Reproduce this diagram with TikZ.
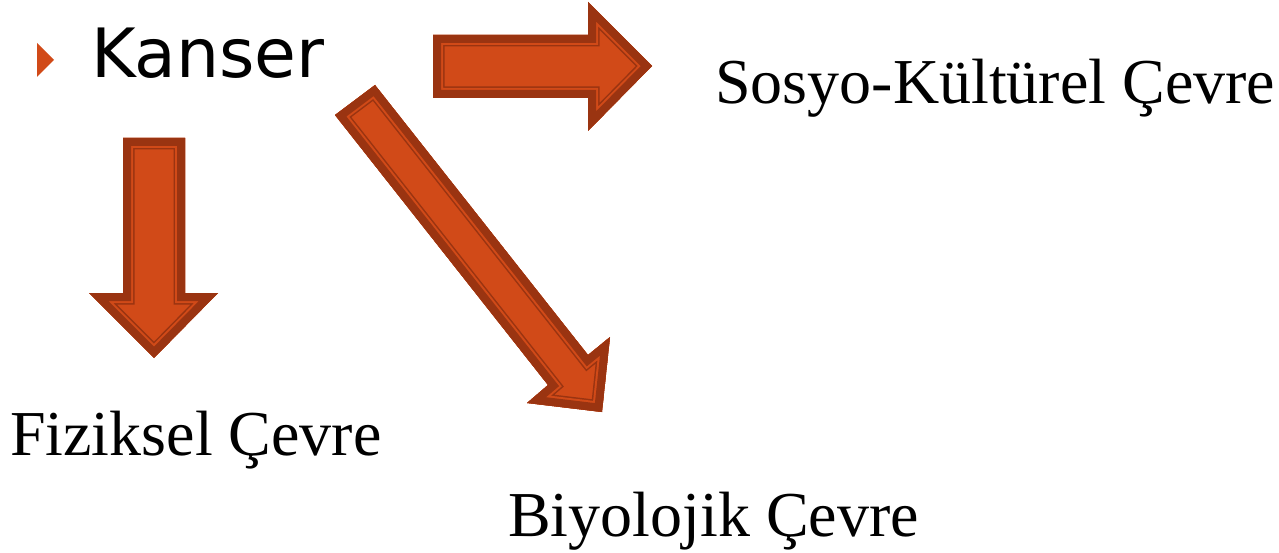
\documentclass[tikz,border=0pt]{standalone}
\usepackage{fontspec}
\setmainfont{Liberation Serif}
\newfontfamily\kanserfont{DejaVu Sans}
\definecolor{arrfill}{HTML}{D14A18}
\definecolor{arrdark}{HTML}{9A3411}
\newcommand\fancyarrow[1]{%
  \begin{scope}
    \clip #1 -- cycle;
    \fill[arrfill] #1 -- cycle;
    \draw[arrdark, line width=23, line join=miter] #1 -- cycle;
    \draw[arrfill, line width=20, line join=miter] #1 -- cycle;
    \draw[arrdark, line width=16, line join=miter] #1 -- cycle;
  \end{scope}}
\tikzset{
  lbl/.style={anchor=base west, inner sep=0pt, font=\fontsize{64}{70}\selectfont},
}
\begin{document}
\begin{tikzpicture}[x=1pt, y=-1pt]
\useasboundingbox (0,0) rectangle (1279,553);
% bullet
\fill[arrfill] (37,43) -- (54,60) -- (37,77) -- cycle;
\node[anchor=base west, inner sep=0pt, font=\kanserfont\fontsize{68}{78}\selectfont] (kanser) at (91,78) {Kanser};
% arrows
\fancyarrow{(433,35) -- (588,35) -- (588,2) -- (652,66) -- (588,131) -- (588,98) -- (433,98)}
\fancyarrow{(123,138) -- (185,138) -- (185,293) -- (218,293) -- (154,358) -- (89,293) -- (123,293)}
\fancyarrow{(375,85) -- (588,355) -- (610,337) -- (602,412) -- (527,403) -- (548,385) -- (335,115)}
% labels
\node[lbl] (sosyo) at (715,104) {Sosyo-Kültürel Çevre};
\node[lbl] (fizik) at (10,455) {Fiziksel Çevre};
\node[lbl] (biyo) at (508,536) {Biyolojik Çevre};
\end{tikzpicture}
\end{document}
